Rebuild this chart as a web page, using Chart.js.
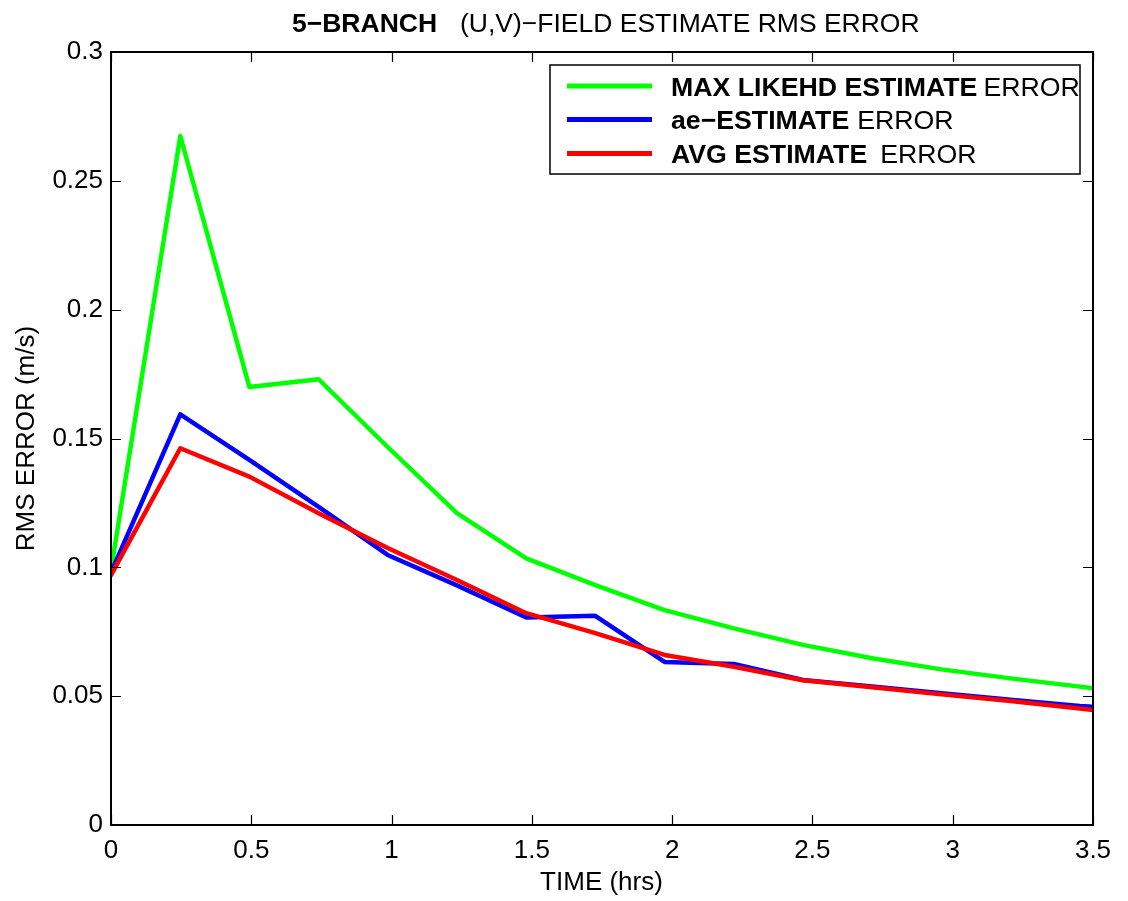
<!DOCTYPE html>
<html>
<head>
<meta charset="utf-8">
<title>5-BRANCH RMS ERROR</title>
<script src="https://cdn.jsdelivr.net/npm/chart.js@4.4.1/dist/chart.umd.min.js"></script>
<style>
  html, body { margin: 0; padding: 0; background: #fff; }
  #rmsChart { display: block; }
</style>
</head>
<body>
<canvas id="rmsChart" width="1128" height="901"></canvas>
<script>
// ---- DATA ----
const timeHrs = [0, 0.247, 0.493, 0.74, 0.986, 1.233, 1.48, 1.726, 1.973, 2.22, 2.466, 2.713, 2.96, 3.206, 3.453, 3.5];
const maxLikeErr = [0.099, 0.2674, 0.170, 0.173, 0.1467, 0.121, 0.1035, 0.0931, 0.0834, 0.0763, 0.0699, 0.0647, 0.0604, 0.0569, 0.0537, 0.0531];
const aeErr = [0.098, 0.1594, 0.1417, 0.1235, 0.1048, 0.093, 0.0805, 0.0812, 0.0633, 0.0625, 0.0563, 0.0538, 0.0511, 0.0486, 0.0462, 0.0459];
const avgErr = [0.097, 0.1462, 0.1352, 0.121, 0.1075, 0.0951, 0.0822, 0.0745, 0.066, 0.0614, 0.0562, 0.0535, 0.0507, 0.0481, 0.0452, 0.0446];

const xTickLabels = ['0', '0.5', '1', '1.5', '2', '2.5', '3', '3.5'];
const yTickLabels = ['0', '0.05', '0.1', '0.15', '0.2', '0.25', '0.3'];

const legendRows = [
  { bold: 'MAX LIKEHD ESTIMATE', normal: 'ERROR', gap: 6, color: '#00ff00' },
  { bold: 'ae\u2212ESTIMATE', normal: 'ERROR', gap: 8, color: '#0000ff' },
  { bold: 'AVG ESTIMATE', normal: 'ERROR', gap: 13, color: '#ff0000' }
];

const FONT = "'Liberation Sans', Arial, Helvetica, sans-serif";
const toPoints = ys => timeHrs.map((t, i) => ({ x: t, y: ys[i] }));

// ---- FRAME, INWARD TICKS, TITLES, LEGEND ----
const matlabDecor = {
  id: 'matlabDecor',
  afterDraw(chart) {
    const { ctx, chartArea: a, scales } = chart;
    const tl = 10;
    ctx.save();
    ctx.strokeStyle = '#000';

    // tick marks on all four sides, pointing in
    ctx.lineWidth = 1.2;
    ctx.beginPath();
    scales.x.ticks.forEach(t => {
      const px = Math.round(scales.x.getPixelForValue(t.value)) + 0.5;
      ctx.moveTo(px, a.bottom); ctx.lineTo(px, a.bottom - tl);
      ctx.moveTo(px, a.top); ctx.lineTo(px, a.top + tl);
    });
    scales.y.ticks.forEach(t => {
      const py = Math.round(scales.y.getPixelForValue(t.value)) + 0.5;
      ctx.moveTo(a.left, py); ctx.lineTo(a.left + tl, py);
      ctx.moveTo(a.right, py); ctx.lineTo(a.right - tl, py);
    });
    ctx.stroke();

    // axes box
    ctx.lineWidth = 2;
    ctx.strokeRect(a.left, a.top, a.right - a.left, a.bottom - a.top);

    // title: bold part + normal part
    ctx.fillStyle = '#000';
    ctx.textBaseline = 'alphabetic';
    ctx.textAlign = 'left';
    ctx.font = `bold 26.5px ${FONT}`;
    ctx.fillText('5\u2212BRANCH', 292, 32);
    ctx.font = `26.5px ${FONT}`;
    ctx.fillText('(U,V)\u2212FIELD ESTIMATE RMS ERROR', 460, 32);

    // axis titles
    ctx.font = `26px ${FONT}`;
    ctx.textAlign = 'center';
    ctx.fillText('TIME (hrs)', 601.5, 890);
    ctx.save();
    ctx.translate(34, (a.top + a.bottom) / 2);
    ctx.rotate(-Math.PI / 2);
    ctx.fillText('RMS ERROR (m/s)', 0, 0);
    ctx.restore();

    // legend
    const box = { l: 550, t: 65, r: 1080, b: 174 };
    ctx.fillStyle = '#fff';
    ctx.fillRect(box.l, box.t, box.r - box.l, box.b - box.t);
    ctx.lineWidth = 1.5;
    ctx.strokeRect(box.l, box.t, box.r - box.l, box.b - box.t);
    const rowY = [86, 119.5, 153.5];
    ctx.textAlign = 'left';
    legendRows.forEach((row, i) => {
      const y = rowY[i];
      ctx.strokeStyle = row.color;
      ctx.lineWidth = 5;
      ctx.beginPath();
      ctx.moveTo(567, y); ctx.lineTo(652, y);
      ctx.stroke();
      ctx.fillStyle = '#000';
      ctx.font = `bold 26.7px ${FONT}`;
      ctx.fillText(row.bold, 671, y + 9.5);
      const w = ctx.measureText(row.bold).width;
      ctx.font = `26.7px ${FONT}`;
      ctx.fillText(row.normal, 671 + w + row.gap, y + 9.5);
    });
    ctx.restore();
  }
};

// ---- CHART ----
const lineStyle = { borderWidth: 4.5, pointRadius: 0, tension: 0, borderJoinStyle: 'round', borderCapStyle: 'round', fill: false };

new Chart(document.getElementById('rmsChart'), {
  type: 'line',
  data: {
    datasets: [
      { label: 'MAX LIKEHD ESTIMATE ERROR', data: toPoints(maxLikeErr), borderColor: '#00ff00', order: 3, ...lineStyle },
      { label: 'ae-ESTIMATE ERROR', data: toPoints(aeErr), borderColor: '#0000ff', order: 2, ...lineStyle },
      { label: 'AVG ESTIMATE ERROR', data: toPoints(avgErr), borderColor: '#ff0000', order: 1, ...lineStyle }
    ]
  },
  options: {
    responsive: false,
    devicePixelRatio: 1,
    animation: false,
    layout: { padding: { top: 52, right: 35, bottom: 0, left: 0 } },
    plugins: { legend: { display: false }, tooltip: { enabled: false }, title: { display: false } },
    scales: {
      x: {
        type: 'linear',
        min: 0,
        max: 3.5,
        grid: { display: false, drawTicks: false },
        border: { display: false },
        ticks: {
          stepSize: 0.5,
          padding: 10,
          maxRotation: 0,
          color: '#000',
          font: { family: FONT, size: 26 },
          callback: (v, i) => xTickLabels[i]
        },
        afterFit: s => { s.height = 76; }
      },
      y: {
        type: 'linear',
        min: 0,
        max: 0.3,
        grid: { display: false, drawTicks: false },
        border: { display: false },
        ticks: {
          stepSize: 0.05,
          padding: 8,
          color: '#000',
          font: { family: FONT, size: 26 },
          callback: (v, i) => yTickLabels[i]
        },
        afterFit: s => { s.width = 111; }
      }
    }
  },
  plugins: [matlabDecor]
});
</script>
</body>
</html>
